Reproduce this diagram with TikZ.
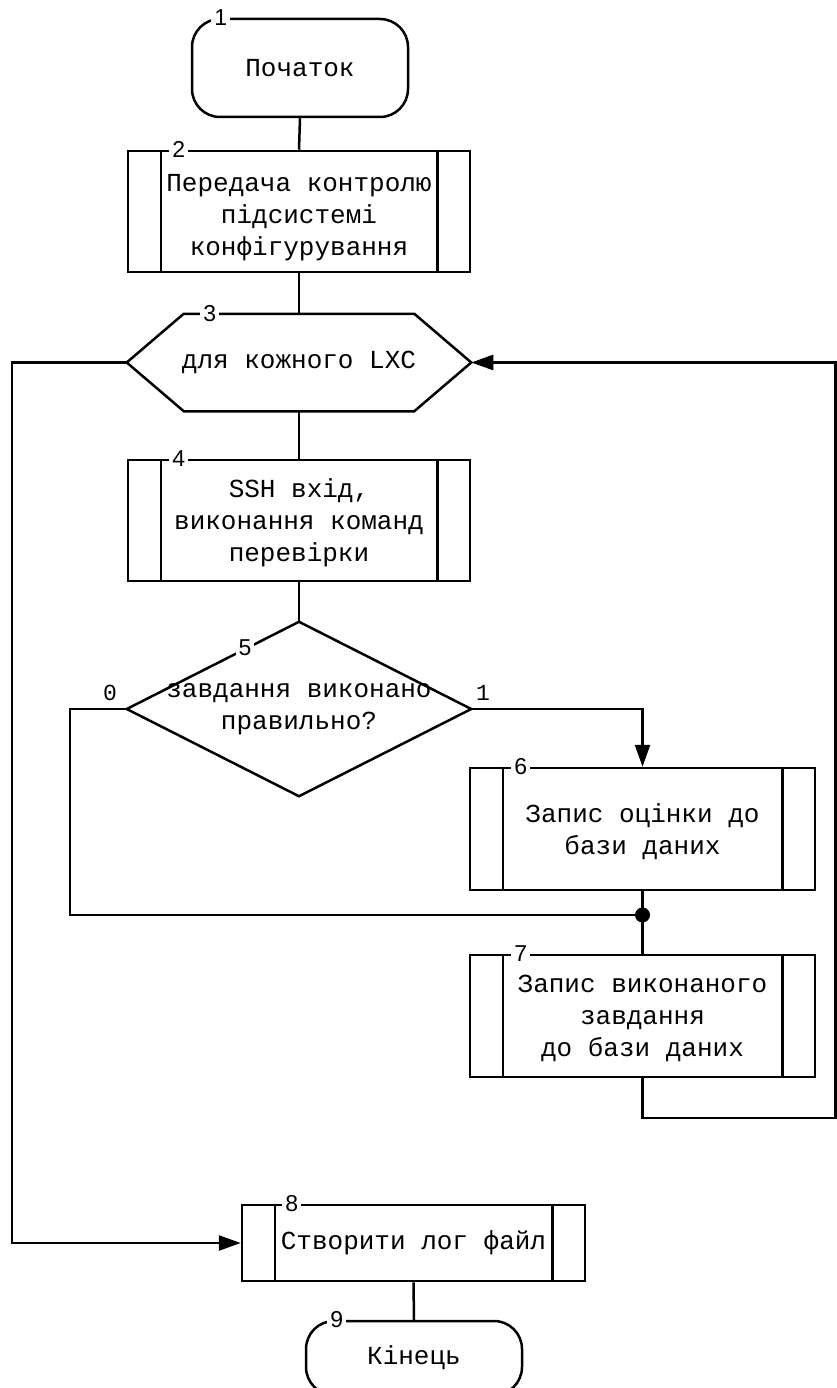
\documentclass[tikz,border=0pt]{standalone}
\usepackage{fontspec}
\newfontfamily\labelsans{Liberation Sans}
\newfontfamily\blockmono{Liberation Mono}
\usetikzlibrary{arrows.meta}

\begin{document}
\begin{tikzpicture}[x=1pt,y=-1pt,
  line width=2.5pt,
  every node/.style={inner sep=0pt},
  blocktext/.style={font=\blockmono\fontsize{26}{32}\selectfont, align=center},
  terminal/.style={draw, rectangle, rounded corners=28pt, blocktext},
  procbox/.style={draw, rectangle, blocktext},
  ghost/.style={rectangle, blocktext},
  num/.style={fill=white, inner sep=3pt, font=\labelsans\fontsize{23}{23}\selectfont},
  branch/.style={font=\blockmono\fontsize{23}{23}\selectfont},
  flowarrow/.style={-{Triangle[length=22pt,width=15pt]}}
]
\useasboundingbox (0,0) rectangle (837,1388);
\clip (0,0) rectangle (837,1388);

% blocks
\node[terminal, minimum width=216pt, minimum height=98pt] (n1) at (300,68) {Початок};
\node[procbox, minimum width=342pt, minimum height=121pt] (n2) at (299,211.5) {};
\node[ghost] (n2t) at (299,218) {Передача контролю\\підсистемі\\конфігурування};
\node[ghost, minimum width=342pt, minimum height=95pt] (n3) at (299,362.5) {для кожного LXC};
\draw (n3.west) -- ([xshift=57pt]n3.north west) -- ([xshift=-57pt]n3.north east)
  -- (n3.east) -- ([xshift=-57pt]n3.south east) -- ([xshift=57pt]n3.south west) -- cycle;
\node[procbox, minimum width=342pt, minimum height=121pt] (n4) at (299,520.5) {};
\node[ghost] (n4t) at (299,522.5) {SSH вхід,\\виконання команд\\перевірки};
\node[ghost, minimum width=342pt, minimum height=172pt] (n5) at (299,709)
  {завдання виконано\\правильно?};
\draw (n5.north) -- (n5.east) -- (n5.south) -- (n5.west) -- cycle;
\node[procbox, minimum width=345pt, minimum height=122pt] (n6) at (642.5,829) {};
\node[ghost] (n6t) at (642.5,832) {Запис оцінки до\\бази даних};
\node[procbox, minimum width=345pt, minimum height=122pt] (n7) at (642.5,1016) {};
\node[ghost] (n7t) at (642.5,1018) {Запис виконаного\\завдання\\до бази даних};
\node[procbox, minimum width=343pt, minimum height=76pt] (n8) at (413.5,1243)
  {Створити лог файл};
\node[terminal, minimum width=216pt, minimum height=74pt] (n9) at (414,1358) {Кінець};

% side bars of the predefined-process blocks
\foreach \b in {n2,n4,n6,n7,n8}
  \draw ([xshift=34pt]\b.north west) -- ([xshift=34pt]\b.south west)
        ([xshift=-34pt]\b.north east) -- ([xshift=-34pt]\b.south east);

% connectors
\draw (n1.south) -- (n2.north);
\draw (n2.south) -- (n3.north);
\draw (n3.south) -- (n4.north);
\draw (n4.south) -- (n5.north);
\draw[flowarrow] (n5.east) -| (n6.north);
\coordinate (j) at (n6.south |- 0,915);
\coordinate (lft) at (70,709);
\draw (n5.west) -- (lft) |- (j);
\draw (n6.south) -- (n7.north);
\fill (j) circle (7.5pt);
\coordinate (rb) at (835.5,1118);
\draw[flowarrow] (n7.south) |- (rb) |- (n3.east);
\coordinate (lt) at (12,362.5);
\draw[flowarrow] (n3.west) -- (lt) |- (n8.west);
\draw (n8.south) -- (n9.north);

% block numbers
\node[num] (k1) at ([xshift=30pt]n1.north west) {1};
\node[num] (k2) at ([xshift=52pt]n2.north west) {2};
\node[num] (k3) at ([xshift=83pt]n3.north west) {3};
\node[num] (k4) at ([xshift=52pt]n4.north west) {4};
\node[num] (k5) at ([xshift=-54pt,yshift=61pt]n5.center) {5};
\node[num] (k6) at ([xshift=52pt]n6.north west) {6};
\node[num] (k7) at ([xshift=52pt]n7.north west) {7};
\node[num] (k8) at ([xshift=51pt]n8.north west) {8};
\node[num] (k9) at ([xshift=32pt]n9.north west) {9};

% branch labels
\node[branch] (b0) at (110,693) {0};
\node[branch] (b1) at (483,693) {1};
\end{tikzpicture}
\end{document}
